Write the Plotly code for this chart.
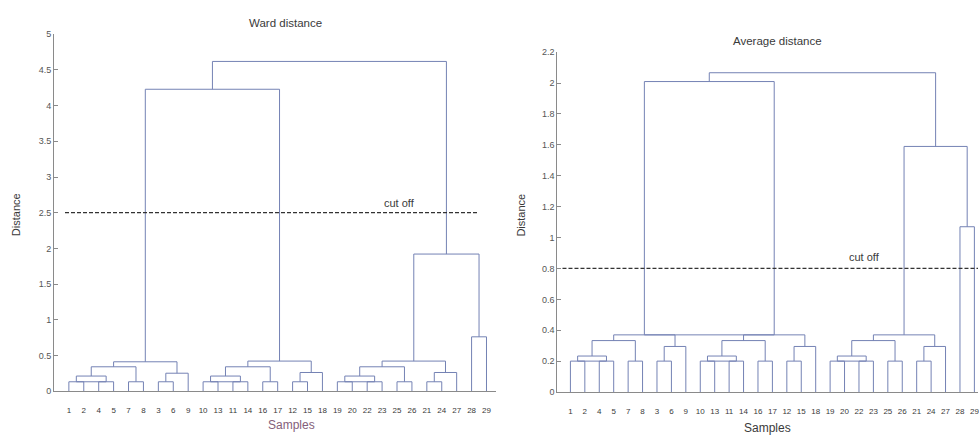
import plotly.graph_objects as go

# ---------------- data ----------------
LEAF_ORDER = [1, 2, 4, 5, 7, 8, 3, 6, 9, 10, 13, 11, 14, 16, 17, 12, 15, 18,
              19, 20, 22, 23, 25, 26, 21, 24, 27, 28, 29]

# merge tree (shared by both linkages); ints = samples, "mK" = K-th merge
MERGE_LEFT = [1, 4, "m1", 7, "m3", 3, "m6", "m5",
              10, 11, "m9", 16, "m11", 12, "m14", "m13",
              19, 22, "m17", 25, "m19", 21, "m22", "m21",
              28, "m24", "m8", "m27"]
MERGE_RIGHT = [2, 5, "m2", 8, "m4", 6, 9, "m7",
               13, 14, "m10", 17, "m12", 15, 18, "m15",
               20, 23, "m18", 26, "m20", 24, 27, "m23",
               29, "m25", "m16", "m26"]

WARD_HEIGHT = [0.13, 0.13, 0.21, 0.13, 0.34, 0.13, 0.25, 0.41,
               0.13, 0.13, 0.21, 0.13, 0.34, 0.13, 0.26, 0.42,
               0.13, 0.13, 0.21, 0.13, 0.34, 0.13, 0.26, 0.42,
               0.76, 1.92, 4.23, 4.62]
AVG_HEIGHT = [0.20, 0.20, 0.233, 0.20, 0.333, 0.20, 0.295, 0.37,
              0.20, 0.20, 0.233, 0.20, 0.333, 0.20, 0.295, 0.37,
              0.20, 0.20, 0.233, 0.20, 0.333, 0.20, 0.295, 0.37,
              1.07, 1.59, 2.01, 2.067]

# clusters tied at the same height whose bars are drawn joined
WARD_TIES = [("m1", "m2"), ("m9", "m10"), ("m17", "m18")]
AVG_TIES = [("m1", "m2"), ("m9", "m10"), ("m17", "m18"), ("m8", "m16")]

WARD_CUT = 2.5
AVG_CUT = 0.8

WARD_YTICKS = [0, 0.5, 1, 1.5, 2, 2.5, 3, 3.5, 4, 4.5, 5]
AVG_YTICKS = [0, 0.2, 0.4, 0.6, 0.8, 1, 1.2, 1.4, 1.6, 1.8, 2, 2.2]

# ---------------- helpers ----------------
W, H = 979, 441
LINE = "#7482b4"
AXC = "#8a8a8a"
TXT = "#3a3a3a"
FONT = "Arial"


def dendro(heights, ties):
    pos = {leaf: (i + 1, 0.0) for i, leaf in enumerate(LEAF_ORDER)}
    xs, ys = [], []
    for k, (l, r, h) in enumerate(zip(MERGE_LEFT, MERGE_RIGHT, heights)):
        xl, yl = pos[l]
        xr, yr = pos[r]
        xs += [xl, xl, xr, xr, None]
        ys += [yl, h, h, yr, None]
        pos["m%d" % (k + 1)] = ((xl + xr) / 2, h)
    for a, b in ties:
        xa, ya = pos[a]
        xb, yb = pos[b]
        xs += [xa, xb, None]
        ys += [ya, yb, None]
    return xs, ys


wx, wy = dendro(WARD_HEIGHT, WARD_TIES)
ax_, ay_ = dendro(AVG_HEIGHT, AVG_TIES)

fig = go.Figure()
fig.add_trace(go.Scatter(x=wx, y=wy, mode="lines", line=dict(color=LINE, width=1),
                         xaxis="x", yaxis="y", hoverinfo="skip", showlegend=False))
fig.add_trace(go.Scatter(x=ax_, y=ay_, mode="lines", line=dict(color=LINE, width=1),
                         xaxis="x2", yaxis="y2", hoverinfo="skip", showlegend=False))

tickvals = list(range(1, len(LEAF_ORDER) + 1))
ticktext = [str(v) for v in LEAF_ORDER]

xcommon = dict(showgrid=False, zeroline=False, showline=True, linecolor=AXC, linewidth=1,
               tickvals=tickvals, ticktext=ticktext, ticks="outside", ticklen=11,
               tickcolor="rgba(0,0,0,0)", tickfont=dict(family=FONT, size=8, color=TXT),
               ticklabeloverflow="allow", fixedrange=True)
ycommon = dict(showgrid=False, zeroline=False, showline=True, linecolor=AXC, linewidth=1,
               ticks="inside", ticklen=4, tickcolor=AXC, tickwidth=1,
               tickfont=dict(family=FONT, size=9, color="#555"), fixedrange=True)


def ann(text, x, y, size, color=TXT, angle=0, xref="paper", yref="paper"):
    return dict(text=text, x=x, y=y, xref=xref, yref=yref, showarrow=False,
                xanchor="center", yanchor="middle", textangle=angle,
                font=dict(family=FONT, size=size, color=color))


fig.update_layout(
    width=W, height=H, margin=dict(l=0, r=0, t=0, b=0),
    paper_bgcolor="white", plot_bgcolor="white",
    font=dict(family=FONT, color=TXT),
    xaxis=dict(domain=[54 / W, 497 / W], range=[0, 29.67], anchor="y", **xcommon),
    yaxis=dict(domain=[(H - 395) / H, (H - 30) / H], range=[0, 5], anchor="x",
               tickvals=WARD_YTICKS, **ycommon),
    xaxis2=dict(domain=[558 / W, 1.0], range=[0.1, 29.25], anchor="y2", **xcommon),
    yaxis2=dict(domain=[(H - 396) / H, (H - 48.3) / H], range=[0, 2.2], anchor="x2",
                tickvals=AVG_YTICKS, **ycommon),
    shapes=[
        dict(type="line", xref="x", yref="y", x0=0.74, x1=28.4, y0=WARD_CUT, y1=WARD_CUT,
             line=dict(color="#333333", width=1.2, dash="4px,2px")),
        dict(type="line", xref="x2", yref="y2", x0=0.45, x1=29.25, y0=AVG_CUT, y1=AVG_CUT,
             line=dict(color="#333333", width=1.2, dash="4px,2px")),
    ],
    annotations=[
        ann("Ward distance", 286 / W, (H - 18) / H, 11.5),
        ann("Average distance", 778 / W, (H - 37) / H, 11.5),
        ann("Samples", 292 / W, (H - 430) / H, 12, "#84607a"),
        ann("Samples", 768 / W, (H - 433) / H, 12),
        ann("Distance", 16 / W, (H - 214) / H, 11, angle=-90),
        ann("Distance", 522 / W, (H - 215) / H, 11, angle=-90),
        ann("cut off", 23.2, WARD_CUT + 0.14, 11, xref="x", yref="y"),
        ann("cut off", 21.36, AVG_CUT + 0.075, 11, xref="x2", yref="y2"),
    ],
)

fig.write_html("out.html", config={"displayModeBar": False},
               post_script="document.body.style.margin='0';")
